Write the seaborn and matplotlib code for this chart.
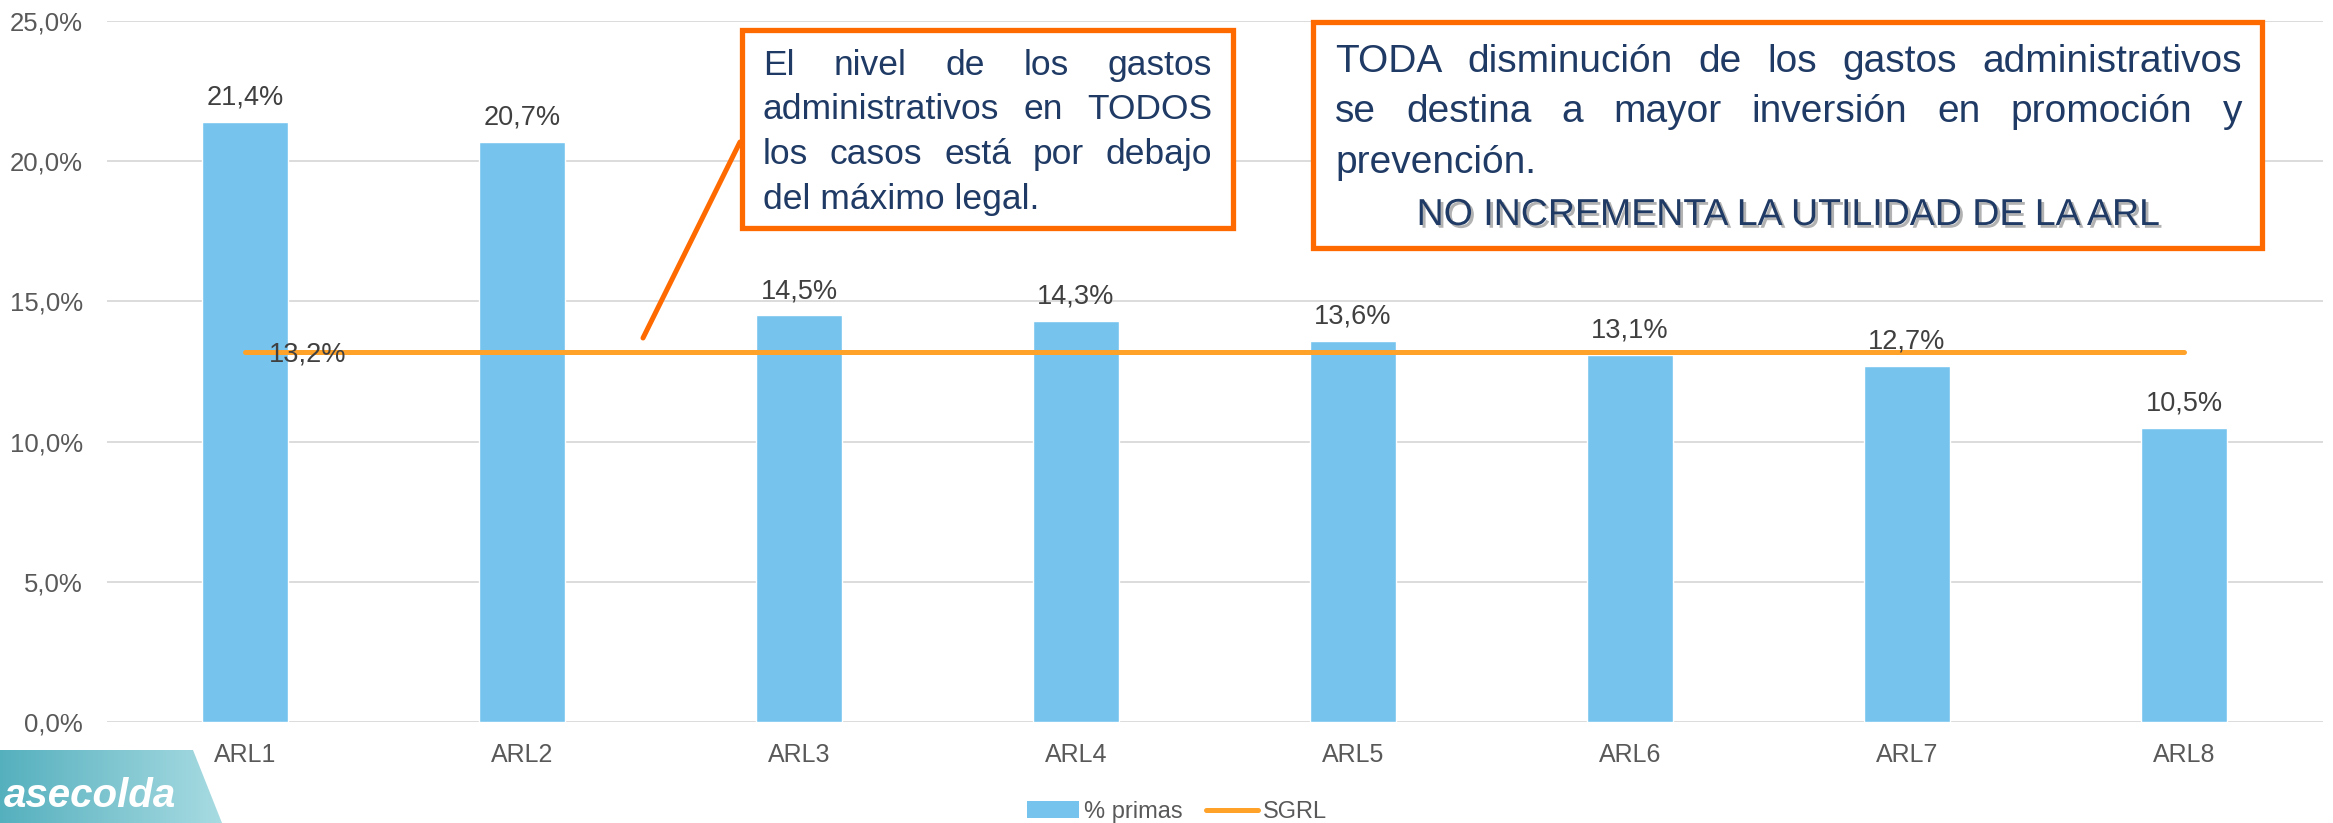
import numpy as np
import pandas as pd
import seaborn as sns
import matplotlib
matplotlib.use("Agg")
import matplotlib.pyplot as plt
import matplotlib.patheffects as pe
from matplotlib.patches import Rectangle, Polygon, Patch
from matplotlib.lines import Line2D
from matplotlib.colors import LinearSegmentedColormap

categories = ["ARL1", "ARL2", "ARL3", "ARL4", "ARL5", "ARL6", "ARL7", "ARL8"]
primas = [21.4, 20.7, 14.5, 14.3, 13.6, 13.1, 12.7, 10.5]
sgrl = [13.2, 13.2, 13.2, 13.2, 13.2, 13.2, 13.2, 13.2]
yticks = [0, 5, 10, 15, 20, 25]

box1_lines = ["El nivel de los gastos",
              "administrativos en TODOS",
              "los casos está por debajo",
              "del máximo legal."]
box2_lines = ["TODA disminución de los gastos administrativos",
              "se destina a mayor inversión en promoción y",
              "prevención."]
box2_last = "NO INCREMENTA LA UTILIDAD DE LA ARL"

BLUE = "#76C4EE"
ORANGE_LINE = "#FFA229"
ORANGE_BOX = "#FF6A00"
NAVY = "#1F3A64"
GREY = "#595959"

sns.set_theme(style="white")
plt.rcParams["font.family"] = ["Liberation Sans", "DejaVu Sans"]

W, H = 2333, 823
fig = plt.figure(figsize=(W / 100, H / 100), dpi=100)


def fx(x):
    return x / W


def fy(y):
    return 1 - y / H


ax = fig.add_axes([fx(106.5), fy(722), (2322.5 - 106.5) / W, (722 - 21) / H])

df = pd.DataFrame({"arl": categories, "primas": primas, "sgrl": sgrl})
sns.barplot(data=df, x="arl", y="primas", color=BLUE, saturation=1,
            width=0.314, ax=ax, zorder=2)
sns.lineplot(data=df, x="arl", y="sgrl", color=ORANGE_LINE, lw=3.6,
             solid_capstyle="round", ax=ax, zorder=3)

ax.bar_label(ax.containers[0],
             labels=[f"{v:.1f}%".replace(".", ",") for v in primas],
             padding=8, fontsize=19.5, color="#404040")
ax.annotate(f"{sgrl[0]:.1f}%".replace(".", ","), (0, sgrl[0]),
            xytext=(17, -2), textcoords="offset points",
            ha="left", va="center", fontsize=19.5, color="#404040", zorder=4)

ax.set_xlim(-0.5, len(categories) - 0.5)
ax.set_ylim(0, 25)
ax.set_yticks(yticks)
ax.set_yticklabels([f"{v:.1f}%".replace(".", ",") for v in yticks])
ax.set_xlabel("")
ax.set_ylabel("")
ax.tick_params(axis="y", length=0, pad=17, labelsize=18.5, labelcolor=GREY)
ax.tick_params(axis="x", length=0, pad=15, labelsize=18, labelcolor=GREY)
ax.yaxis.grid(True, color="#D9D9D9", lw=1.3)
ax.set_axisbelow(True)
for s in ax.spines.values():
    s.set_visible(False)

# text boxes
r = fig.canvas.get_renderer()


def put_line(text, x0, x1, y, size, justify=True, **kw):
    words = text.split()
    if not justify or len(words) == 1:
        fig.text(fx(x0), fy(y), text, fontsize=size, color=NAVY,
                 va="baseline", ha="left", zorder=8, **kw)
        return
    ts = [fig.text(0, 0, w, fontsize=size, color=NAVY, va="baseline",
                   ha="left", zorder=8, **kw) for w in words]
    widths = [t.get_window_extent(renderer=r).width for t in ts]
    gap = (x1 - x0 - sum(widths)) / (len(words) - 1)
    x = x0
    for t, w in zip(ts, widths):
        t.set_position((fx(x), fy(y)))
        x += w + gap


for (x0, y0, x1, y1) in [(742, 30, 1233, 228), (1313, 22, 2262, 248)]:
    fig.add_artist(Rectangle((fx(x0), fy(y1)), (x1 - x0) / W, (y1 - y0) / H,
                             transform=fig.transFigure, facecolor="white",
                             edgecolor=ORANGE_BOX, lw=3.8, zorder=6))

for i, line in enumerate(box1_lines):
    put_line(line, 763, 1212, [75, 119, 164, 209][i], 25.5,
             justify=i < len(box1_lines) - 1)

for i, line in enumerate(box2_lines):
    put_line(line, 1335, 2242, [72, 122, 173][i], 28,
             justify=i < len(box2_lines) - 1)

fig.text(fx(1788), fy(225), box2_last, fontsize=27, color=NAVY,
         ha="center", va="baseline", zorder=8,
         path_effects=[pe.SimplePatchShadow(offset=(2, -2),
                                            shadow_rgbFace="#7F7F7F",
                                            alpha=0.6), pe.Normal()])

fig.add_artist(Line2D([fx(643), fx(740)], [fy(338), fy(142)],
                      transform=fig.transFigure, color=ORANGE_BOX, lw=3.6,
                      zorder=5))

# legend
handles = [Patch(facecolor=BLUE, edgecolor="none", label="% primas"),
           Line2D([0], [0], color=ORANGE_LINE, lw=3.6,
                  solid_capstyle="round", label="SGRL")]
fig.legend(handles=handles, loc="center", bbox_to_anchor=(fx(1177), fy(812)),
           ncol=2, frameon=False, fontsize=17, labelcolor=GREY,
           handlelength=2.2, handletextpad=0.2, columnspacing=1.0,
           borderpad=0.1)

# logo
lax = fig.add_axes([0, 0, 222 / W, 73 / H])
lax.set_xlim(0, 222)
lax.set_ylim(0, 73)
lax.axis("off")
grad = np.linspace(0, 1, 256).reshape(1, -1)
cmap = LinearSegmentedColormap.from_list("logo", ["#55B0BE", "#A8DBE2"])
im = lax.imshow(grad, extent=[0, 222, 0, 73], cmap=cmap, aspect="auto")
poly = Polygon([(0, 0), (222, 0), (193, 73), (0, 73)], closed=True,
               transform=lax.transData, facecolor="none", edgecolor="none")
lax.add_patch(poly)
im.set_clip_path(poly)
lax.text(4, 16, "asecolda", color="white", fontsize=29, fontweight="bold",
         fontstyle="italic", ha="left", va="baseline")

fig.savefig("out.png", dpi=100)
